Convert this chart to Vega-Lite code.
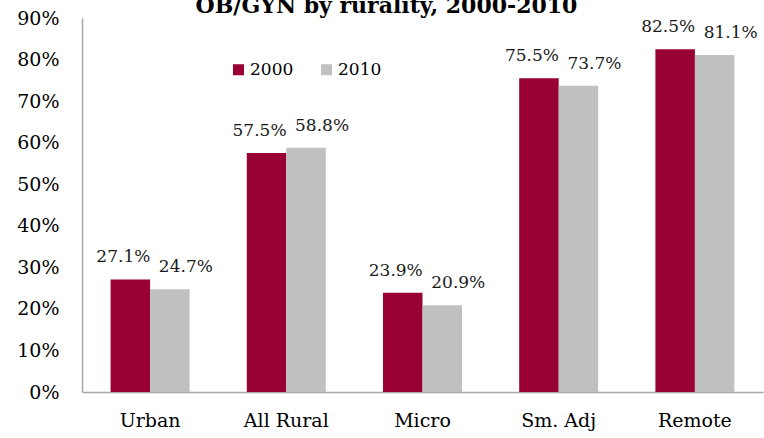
{
  "$schema": "https://vega.github.io/schema/vega-lite/v6.json",
  "autosize": "none",
  "width": 681,
  "height": 374,
  "padding": {"left": 82, "top": 18, "right": 1, "bottom": 46},
  "background": "white",
  "title": {
    "text": "OB/GYN by rurality, 2000-2010",
    "font": "DejaVu Serif",
    "fontSize": 22,
    "fontWeight": "bold",
    "color": "#000000",
    "baseline": "alphabetic",
    "offset": 0,
    "anchor": "middle",
    "dx": -36,
    "dy": 26
  },
  "data": {
    "values": [
      {"area": "Urban", "year": "2000", "share": 0.271, "label": "27.1%"},
      {"area": "Urban", "year": "2010", "share": 0.247, "label": "24.7%"},
      {"area": "All Rural", "year": "2000", "share": 0.575, "label": "57.5%"},
      {"area": "All Rural", "year": "2010", "share": 0.588, "label": "58.8%"},
      {"area": "Micro", "year": "2000", "share": 0.239, "label": "23.9%"},
      {"area": "Micro", "year": "2010", "share": 0.209, "label": "20.9%"},
      {"area": "Sm. Adj", "year": "2000", "share": 0.755, "label": "75.5%"},
      {"area": "Sm. Adj", "year": "2010", "share": 0.737, "label": "73.7%"},
      {"area": "Remote", "year": "2000", "share": 0.825, "label": "82.5%"},
      {"area": "Remote", "year": "2010", "share": 0.811, "label": "81.1%"}
    ]
  },
  "config": {
    "view": {"stroke": null},
    "font": "DejaVu Serif"
  },
  "encoding": {
    "x": {
      "field": "area",
      "type": "nominal",
      "sort": null,
      "scale": {"paddingInner": 0.42, "paddingOuter": 0.21},
      "axis": {
        "title": null,
        "labelAngle": 0,
        "labelFont": "DejaVu Serif",
        "labelFontSize": 19,
        "labelColor": "#000000",
        "labelPadding": 19,
        "ticks": false,
        "domainColor": "#a6a6a6",
        "domainWidth": 1.5,
        "grid": false
      }
    },
    "xOffset": {"field": "year", "type": "nominal"},
    "y": {
      "field": "share",
      "type": "quantitative",
      "scale": {"domain": [0, 0.9], "nice": false},
      "axis": {
        "title": null,
        "format": ".0%",
        "values": [0, 0.1, 0.2, 0.3, 0.4, 0.5, 0.6, 0.7, 0.8, 0.9],
        "labelFont": "DejaVu Serif",
        "labelFontSize": 19,
        "labelColor": "#000000",
        "labelPadding": 23,
        "ticks": false,
        "domainColor": "#a6a6a6",
        "domainWidth": 1.5,
        "grid": false
      }
    }
  },
  "layer": [
    {
      "mark": {"type": "bar"},
      "encoding": {
        "color": {
          "field": "year",
          "type": "nominal",
          "scale": {"domain": ["2000", "2010"], "range": ["#990033", "#c0c0c0"]},
          "legend": {
            "title": null,
            "orient": "none",
            "legendX": 148,
            "legendY": 43,
            "direction": "horizontal",
            "symbolType": "square",
            "symbolSize": 121,
            "symbolStrokeWidth": 0,
            "labelFont": "DejaVu Serif",
            "labelFontSize": 17,
            "labelColor": "#000000",
            "labelOffset": 3,
            "columnPadding": 24,
            "padding": 0
          }
        }
      }
    },
    {
      "transform": [{"filter": "datum.year == '2000'"}],
      "mark": {"type": "text", "baseline": "alphabetic", "dy": -17, "dx": -7, "fontSize": 17, "font": "DejaVu Serif", "color": "#1a1a1a"},
      "encoding": {"text": {"field": "label"}}
    },
    {
      "transform": [{"filter": "datum.year == '2010'"}],
      "mark": {"type": "text", "baseline": "alphabetic", "dy": -17, "dx": 16, "fontSize": 17, "font": "DejaVu Serif", "color": "#1a1a1a"},
      "encoding": {"text": {"field": "label"}}
    }
  ]
}
